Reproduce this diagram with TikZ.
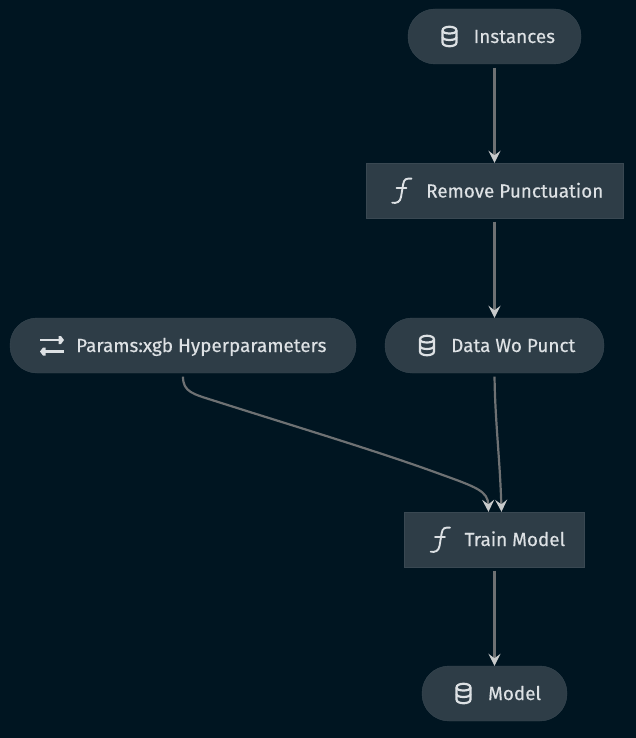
\documentclass[tikz,border=0pt]{standalone}
\usepackage{fontspec}
\setmainfont{Fira Sans}[FakeBold=0.35]
\usepackage{xcolor}
\usetikzlibrary{arrows.meta,calc,positioning}
\definecolor{bgdark}{HTML}{001521}
\definecolor{nodefill}{HTML}{2E3D47}
\definecolor{nodeline}{HTML}{394852}
\definecolor{labeltext}{HTML}{DDE1E4}
\definecolor{edgeline}{HTML}{6E7173}
\definecolor{edgetip}{HTML}{C8CACB}
\tikzset{
	x=1pt,
	y=-1pt,
	pill/.style = {
			draw            = nodeline,
			fill            = nodefill,
			rounded corners = 27pt,
			minimum height  = 55pt,
			inner sep       = 0pt,
		},
	task/.style = {
			draw           = nodeline,
			fill           = nodefill,
			minimum height = 55pt,
			inner sep      = 0pt,
		},
	nodelabel/.style = {
			anchor    = base west,
			inner sep = 0pt,
			text      = labeltext,
			font      = \fontsize{18.9}{20}\selectfont,
		},
	link/.style = {
			draw         = edgeline,
			line width   = 2.2pt,
			shorten <=3.5pt,
			-{Stealth[length=12pt,width=12pt,inset=4.5pt,color=edgetip]},
		},
	dbicon/.pic = {
			\draw[labeltext, line width=2.2pt]
			(-7,-6) .. controls (-7,-11) and (7,-11) .. (7,-6) -- (7,6)
			.. controls (7,11) and (-7,11) .. (-7,6) -- cycle;
			\draw[labeltext, line width=2.2pt] (-7,-6) .. controls (-7,-2) and (7,-2) .. (7,-6);
			\draw[labeltext, line width=2.2pt] (-7,0.5) .. controls (-7,4.5) and (7,4.5) .. (7,0.5);
		},
	swapicon/.pic = {
			\draw[labeltext, line width=2.6pt] (-12,-5.5) -- (10,-5.5);
			\draw[labeltext, line width=2.6pt] (-10,6) -- (12,6);
			\fill[labeltext] (6.5,-9.5) -- (9,-9.5) -- (12,-5.5) -- (9,-1.5) -- (6.5,-1.5) -- cycle;
			\fill[labeltext] (-6.5,2) -- (-9,2) -- (-12,6) -- (-9,10) -- (-6.5,10) -- cycle;
		},
	fcticon/.pic = {
			\draw[labeltext, line width=1.9pt, line cap=round]
			(10,-12.3) .. controls (5,-12.8) and (2.5,-12) .. (1.7,-7)
			-- (-0.5,6) .. controls (-1.2,11) and (-5,12.5) .. (-9.3,11.7);
			\draw[labeltext, line width=1.9pt, line cap=round] (-5,-2.7) -- (5,-2.7);
		},
}
\begin{document}
\begin{tikzpicture}
	\useasboundingbox[fill=bgdark] (0,0) rectangle (636,738);

	\node[pill, minimum width=173pt] at (494.5,36.5) (instances) {};
	\node[task, minimum width=257pt] at (494.5,190.5) (removepunct) {};
	\node[pill, minimum width=346pt] at (183,345.5) (params) {};
	\node[pill, minimum width=219pt] at (494.5,345.5) (datawo) {};
	\node[task, minimum width=180pt] at (494.5,539.5) (trainmodel) {};
	\node[pill, minimum width=145pt] at (494.5,693.5) (model) {};

	\pic at (449.5,36.5) {dbicon};
	\pic at (427,345.5) {dbicon};
	\pic at (463.5,693.5) {dbicon};
	\pic at (52,345.5) {swapicon};
	\pic at (401.5,191) {fcticon};
	\pic at (440,540) {fcticon};

	\node[nodelabel] at (473.5,43) (instanceslabel) {Instances};
	\node[nodelabel] at (426,197.5) (removelabel) {Remove Punctuation};
	\node[nodelabel] at (76,352) (paramslabel) {Params:xgb Hyperparameters};
	\node[nodelabel] at (451,352) (datawolabel) {Data Wo Punct};
	\node[nodelabel] at (464.5,546) (trainlabel) {Train Model};
	\node[nodelabel] at (488,700) (modellabel) {Model};

	\draw[link] (instances) -- (removepunct);
	\draw[link] (removepunct) -- (datawo);
	\draw[link] (trainmodel) -- (model);

	\draw[link] (params.south) .. controls (183,392) and (193,394) .. (215,401)
	.. controls (300,428) and (380,452) .. (440,474)
	.. controls (476,487) and (488,491) .. ($(trainmodel.north)+(-6,0)$);
	\draw[link] (datawo.south) .. controls (495,420) and (500,460) .. ($(trainmodel.north)+(7,0)$);
\end{tikzpicture}
\end{document}
